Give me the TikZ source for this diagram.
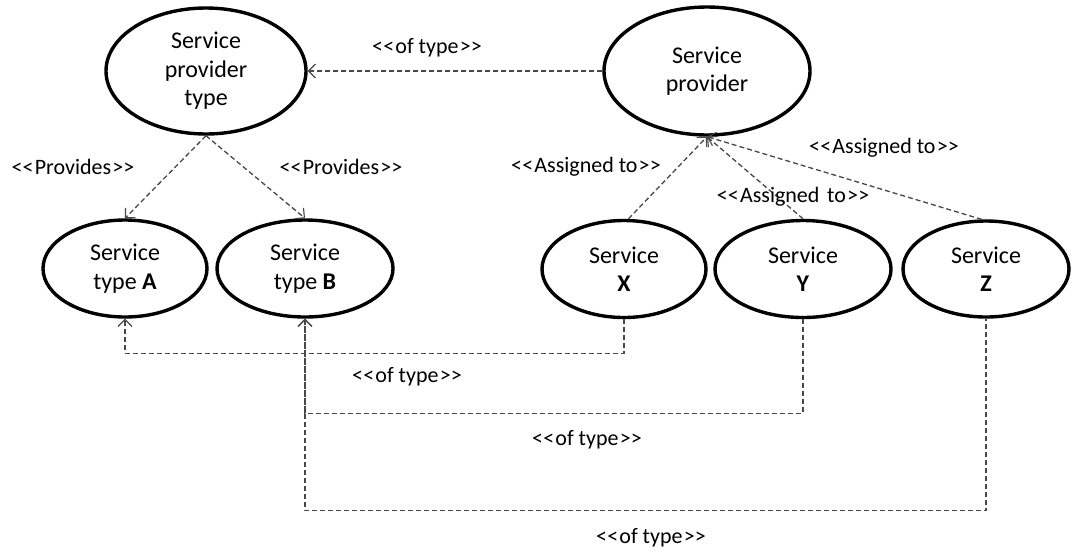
\documentclass[tikz,border=0pt]{standalone}
\usepackage{fontspec}
\setmainfont{Carlito}
\usetikzlibrary{arrows.meta,shapes.geometric}
% stereotype guillemets written as doubled angle brackets
\newcommand{\stereoL}{<\kern0.2pt<\kern1.2pt}
\newcommand{\stereoR}{\kern1.2pt>\kern0.2pt>}
\newcommand{\stereo}[1]{\stereoL#1\stereoR}
\begin{document}
\begin{tikzpicture}[x=1pt,y=-1pt,
  entity/.style={ellipse,draw=black,line width=3.4pt,inner sep=0pt,align=center,
    font=\fontsize{24}{28.5}\selectfont},
  rel/.style={draw=black!72,line width=1.3pt,dash pattern=on 5pt off 3pt,
    -{Straight Barb[length=7pt,width=14pt,line width=1.1pt]}},
  lbl/.style={inner sep=0pt,font=\fontsize{22}{24}\selectfont}]
  % canvas
  \useasboundingbox (0,0) rectangle (1076,555);

  % entities
  \node[entity,minimum width=200pt,minimum height=126pt] (spt) at (206,71)
    {Service\\provider\\type};
  \node[entity,minimum width=206pt,minimum height=128pt] (sp) at (707,71)
    {Service\\provider};
  \node[entity,minimum width=164pt,minimum height=97pt] (sta) at (125,268.5)
    {Service\\type \textbf{A}};
  \node[entity,minimum width=176pt,minimum height=97pt] (stb) at (305,268.5)
    {Service\\type \textbf{B}};
  \node[entity,minimum width=164pt,minimum height=97pt] (sx) at (624,269)
    {Service\\\textbf{X}};
  \node[entity,minimum width=176pt,minimum height=97pt] (sy) at (803,269)
    {Service\\\textbf{Y}};
  \node[entity,minimum width=166pt,minimum height=96pt] (sz) at (986,269)
    {Service\\\textbf{Z}};

  % provider is of a provider type
  \draw[rel] (sp.west) -- (spt.east);
  \node[lbl] (lofp) at (427,48) {\stereo{of type}};

  % provider type provides service types
  \draw[rel] (spt.south) -- (sta.north);
  \draw[rel] (spt.south) -- (stb.north);
  \node[lbl] (lpa) at (73,167) {\stereo{Provides}};
  \node[lbl] (lpb) at (341,167) {\stereo{Provides}};

  % services assigned to the provider
  \draw[rel] (sx.85) -- (sp.south);
  \draw[rel] (sy.north) -- (sp.south);
  \draw[rel] (sz.95) -- (sp.south);
  \node[lbl] (lax) at (586,167) {\stereo{Assigned to}};
  \node[lbl] (lay) at (793,197) {\stereo{Assigned\hspace{0.35em}to}};
  \node[lbl] (laz) at (884,148) {\stereo{Assigned to}};

  % services are of a service type
  \draw[rel] (sx.south) -- ++(0,34) -| (sta.south);
  \draw[rel] (sy.south) -- ++(0,94) -| (stb.south);
  \draw[rel,dash phase=3pt] (sz.south) -- ++(0,192) -| (stb.south);
  \node[lbl] (lox) at (407,377) {\stereo{of type}};
  \node[lbl] (loy) at (587,440) {\stereo{of type}};
  \node[lbl] (loz) at (651,538) {\stereo{of type}};
\end{tikzpicture}
\end{document}
